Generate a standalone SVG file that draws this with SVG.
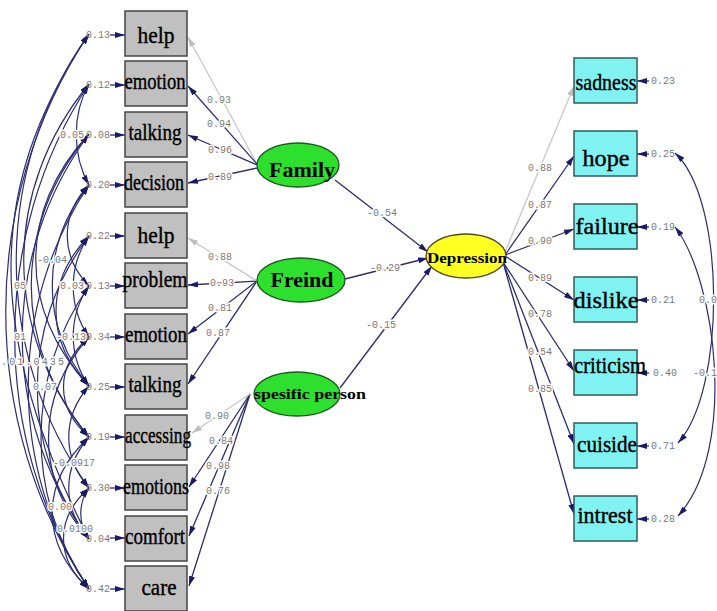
<svg xmlns="http://www.w3.org/2000/svg" width="717" height="611" viewBox="0 0 717 611">
<style>
.box{fill:#c0c0c0;stroke:#454545;stroke-width:1.5}
.cbox{fill:#80f2f2;stroke:#2e5e5e;stroke-width:1.5}
.lat{fill:#2ee02e;stroke:#1d5a1d;stroke-width:1.3}
.dep{fill:#ffff22;stroke:#4a4a20;stroke-width:1.3}
.bt{font-family:"Liberation Serif",serif;font-size:23px;fill:#000;stroke:#000;stroke-width:0.4;text-anchor:middle}
.lt{font-family:"Liberation Serif",serif;font-weight:bold;fill:#000;text-anchor:middle}
.n{font-family:"Liberation Mono",monospace;font-size:10px;fill:#7a7a7a}
.h{stroke:#fff;stroke-width:3;paint-order:stroke;stroke-linejoin:round}
.ln{fill:none;stroke:#2c2c70;stroke-width:1.3}
.lg{fill:none;stroke:#c8c8c8;stroke-width:1.3}
.cv{fill:none;stroke:#2c2c72;stroke-width:1.2}
</style>
<defs>
<marker id="ah" markerUnits="userSpaceOnUse" viewBox="0 0 10 6" markerWidth="10" markerHeight="6" refX="10" refY="3" orient="auto-start-reverse"><path d="M0,0 L10,3 L0,6 z" fill="#1a1a66"/></marker>
<marker id="ahg" markerUnits="userSpaceOnUse" viewBox="0 0 10 6" markerWidth="10" markerHeight="6" refX="10" refY="3" orient="auto"><path d="M0,0 L10,3 L0,6 z" fill="#bdbdbd"/></marker>
</defs>

<g id="connectors">
<g class="cv" marker-start="url(#ah)" marker-end="url(#ah)">
<path d="M89,34 C-22,200 -22,423 89,589"/>
<path d="M89,34 C-15,186 -15,336 89,539"/>
<path d="M89,34 C-8,170 -8,352 89,488"/>
<path d="M89,84 C-10,235 -10,438 89,589"/>
<path d="M89,84 C2,190 2,331 89,437"/>
<path d="M89,84 C72,114 72,155 89,185"/>
<path d="M89,134 C18,210 18,310 89,386"/>
<path d="M89,134 C0,256 0,417 89,539"/>
<path d="M89,134 C12,225 12,346 89,437"/>
<path d="M89,185 C8,306 8,468 89,589"/>
<path d="M89,185 C40,245 40,326 89,386"/>
<path d="M89,185 C60,215 60,256 89,286"/>
<path d="M89,236 C45,281 45,341 89,386"/>
<path d="M89,236 C20,327 20,448 89,539"/>
<path d="M89,236 C68,266 68,307 89,337"/>
<path d="M89,286 C68,316 68,356 89,386"/>
<path d="M89,286 C25,377 25,498 89,589"/>
<path d="M89,337 C55,367 55,407 89,437"/>
<path d="M89,337 C35,398 35,478 89,539"/>
<path d="M89,386 C62,417 62,457 89,488"/>
<path d="M89,437 C62,468 62,508 89,539"/>
<path d="M89,488 C78,503 78,524 89,539"/>
<path d="M89,437 C40,483 40,543 89,589"/>
<path d="M89,488 C55,518 55,559 89,589"/>
</g>
<g class="cv" marker-start="url(#ah)" marker-end="url(#ah)">
<path d="M675,153 C726,200 726,390 678,443"/>
<path d="M675,227 C716,280 738,450 678,516"/>
</g>
<g class="ln" marker-end="url(#ah)">
<path d="M110,35 H125"/><path d="M110,85 H125"/><path d="M110,135 H125"/><path d="M110,185 H125"/>
<path d="M110,236 H125"/><path d="M110,286 H125"/><path d="M110,337 H125"/><path d="M110,387 H125"/>
<path d="M110,437 H125"/><path d="M110,488 H125"/><path d="M110,538 H125"/><path d="M110,589 H125"/>
<path d="M649,81 H637"/><path d="M649,154 H637"/><path d="M649,227 H637"/><path d="M649,300 H637"/>
<path d="M649,373 H637"/><path d="M649,446 H637"/><path d="M649,519 H637"/>
</g>
<path class="lg" d="M257,164 L188,37" marker-end="url(#ahg)"/>
<g class="ln" marker-end="url(#ah)">
<path d="M257,164 L188,86"/><path d="M257,165 L188,135"/><path d="M257,168 L188,183"/>
<path d="M257,281 L188,285"/><path d="M257,281 L188,334"/><path d="M257,281 L188,384"/>
<path d="M250,394 L189,487"/><path d="M250,394 L189,536"/><path d="M250,394 L189,586"/>
<path d="M335,180 L428,252"/><path d="M345,279 L428,258"/><path d="M340,388 L432,266"/>
<path d="M505,255 L574,156"/><path d="M505,255 L574,229"/><path d="M505,256 L574,300"/>
<path d="M503,262 L574,371"/><path d="M503,262 L574,444"/><path d="M503,262 L574,514"/>
</g>
<path class="lg" d="M257,281 L188,238" marker-end="url(#ahg)"/>
<path class="lg" d="M250,394 L192,433" marker-end="url(#ahg)"/>
<path class="lg" d="M505,252 L574,86" marker-end="url(#ahg)"/>
<g class="n h">
<text x="207" y="103">0.93</text><text x="207" y="127">0.94</text><text x="208" y="153">0.96</text><text x="208" y="180">0.89</text>
<text x="208" y="260">0.88</text><text x="210" y="286">0.93</text><text x="208" y="311">0.81</text><text x="206" y="336">0.87</text>
<text x="205" y="419">0.90</text><text x="209" y="444">0.84</text><text x="206" y="469">0.98</text><text x="206" y="494">0.76</text>
<text x="367" y="216">-0.54</text><text x="370" y="271">-0.29</text><text x="366" y="328">-0.15</text>
<text x="528" y="171">0.88</text><text x="528" y="208">0.87</text><text x="528" y="244">0.90</text><text x="528" y="281">0.89</text>
<text x="528" y="317">0.78</text><text x="528" y="355">0.54</text><text x="528" y="392">0.85</text>
<text x="60" y="138">0.05</text><text x="37" y="263">-0.04</text><text x="14" y="289">05</text><text x="60" y="289">0.03</text>
<text x="14" y="340">01</text><text x="56" y="340">-0.13</text><text x="1" y="365" textLength="63">.01.0435</text>
<text x="33" y="390">0.07</text><text x="53" y="466">-0.0917</text><text x="48" y="510">0.00</text><text x="57" y="532">0.0100</text>
<text x="699" y="303">0.0</text><text x="693" y="376">-0.1</text>
</g>
<g class="n">
<text x="86" y="38">0.13</text><text x="86" y="88">0.12</text><text x="86" y="138">0.08</text><text x="86" y="188">0.20</text>
<text x="86" y="239">0.22</text><text x="86" y="289">0.13</text><text x="86" y="340">0.34</text><text x="86" y="390">0.25</text>
<text x="86" y="440">0.19</text><text x="86" y="491">0.30</text><text x="86" y="542">0.04</text><text x="86" y="592">0.42</text>
<text x="651" y="84">0.23</text><text x="651" y="157">0.25</text><text x="651" y="230">0.19</text><text x="651" y="303">0.21</text>
<text x="653" y="376">0.40</text><text x="651" y="449">0.71</text><text x="651" y="522">0.28</text>
</g>
</g>

<g id="n_help1"><rect class="box" x="125" y="11" width="62" height="45"/><text class="bt" x="156" y="43" textLength="37" lengthAdjust="spacingAndGlyphs">help</text></g>
<g id="n_emotion1"><rect class="box" x="125" y="61" width="62" height="45"/><text class="bt" x="155" y="89" textLength="61" lengthAdjust="spacingAndGlyphs">emotion</text></g>
<g id="n_talking1"><rect class="box" x="125" y="112" width="62" height="45"/><text class="bt" x="155" y="140" textLength="53" lengthAdjust="spacingAndGlyphs">talking</text></g>
<g id="n_decision"><rect class="box" x="125" y="162" width="62" height="45"/><text class="bt" x="154" y="190" textLength="60" lengthAdjust="spacingAndGlyphs">decision</text></g>
<g id="n_help2"><rect class="box" x="125" y="213" width="62" height="45"/><text class="bt" x="156" y="243" textLength="37" lengthAdjust="spacingAndGlyphs">help</text></g>
<g id="n_problem"><rect class="box" x="125" y="263" width="62" height="45"/><text class="bt" x="155" y="287" textLength="65" lengthAdjust="spacingAndGlyphs">problem</text></g>
<g id="n_emotion2"><rect class="box" x="125" y="314" width="62" height="45"/><text class="bt" x="156" y="342" textLength="62" lengthAdjust="spacingAndGlyphs">emotion</text></g>
<g id="n_talking2"><rect class="box" x="125" y="364" width="62" height="45"/><text class="bt" x="155" y="392" textLength="53" lengthAdjust="spacingAndGlyphs">talking</text></g>
<g id="n_accessing"><rect class="box" x="125" y="415" width="62" height="45"/><text class="bt" x="158" y="443" font-size="21" textLength="66" lengthAdjust="spacingAndGlyphs">accessing</text></g>
<g id="n_emotions"><rect class="box" x="125" y="465" width="62" height="45"/><text class="bt" x="156" y="494" textLength="66" lengthAdjust="spacingAndGlyphs">emotions</text></g>
<g id="n_comfort"><rect class="box" x="125" y="516" width="62" height="45"/><text class="bt" x="155" y="544" textLength="60" lengthAdjust="spacingAndGlyphs">comfort</text></g>
<g id="n_care"><rect class="box" x="125" y="566" width="62" height="45"/><text class="bt" x="159" y="595" textLength="35" lengthAdjust="spacingAndGlyphs">care</text></g>

<g id="n_family"><ellipse class="lat" cx="298" cy="165" rx="41" ry="22"/><text class="lt" x="302" y="177" font-size="22" textLength="66" lengthAdjust="spacingAndGlyphs">Family</text></g>
<g id="n_freind"><ellipse class="lat" cx="301" cy="280" rx="44" ry="22"/><text class="lt" x="302" y="287" font-size="22" textLength="63" lengthAdjust="spacingAndGlyphs">Freind</text></g>
<g id="n_spesific"><ellipse class="lat" cx="297" cy="394" rx="43" ry="22"/><text class="lt" x="310" y="399" font-size="15" textLength="112" lengthAdjust="spacingAndGlyphs">spesific person</text></g>
<g id="n_depression"><ellipse class="dep" cx="466" cy="256" rx="40" ry="22"/><text class="lt" x="467" y="263" font-size="15" textLength="80" lengthAdjust="spacingAndGlyphs">Depression</text></g>

<g id="n_sadness"><rect class="cbox" x="574" y="58" width="63" height="45"/><text class="bt" x="606" y="90" textLength="61" lengthAdjust="spacingAndGlyphs">sadness</text></g>
<g id="n_hope"><rect class="cbox" x="574" y="131" width="63" height="45"/><text class="bt" x="606" y="166" font-size="26" textLength="47" lengthAdjust="spacingAndGlyphs">hope</text></g>
<g id="n_failure"><rect class="cbox" x="574" y="204" width="63" height="45"/><text class="bt" x="607" y="234" font-size="25" textLength="63" lengthAdjust="spacingAndGlyphs">failure</text></g>
<g id="n_dislike"><rect class="cbox" x="574" y="277" width="63" height="45"/><text class="bt" x="606" y="308" font-size="25" textLength="65" lengthAdjust="spacingAndGlyphs">dislike</text></g>
<g id="n_criticism"><rect class="cbox" x="574" y="350" width="63" height="45"/><text class="bt" x="610" y="373" font-size="20" textLength="72" lengthAdjust="spacingAndGlyphs">criticism</text></g>
<g id="n_cuiside"><rect class="cbox" x="574" y="423" width="63" height="45"/><text class="bt" x="607" y="452" textLength="60" lengthAdjust="spacingAndGlyphs">cuiside</text></g>
<g id="n_intrest"><rect class="cbox" x="574" y="496" width="63" height="45"/><text class="bt" x="605" y="523" textLength="55" lengthAdjust="spacingAndGlyphs">intrest</text></g>
</svg>
